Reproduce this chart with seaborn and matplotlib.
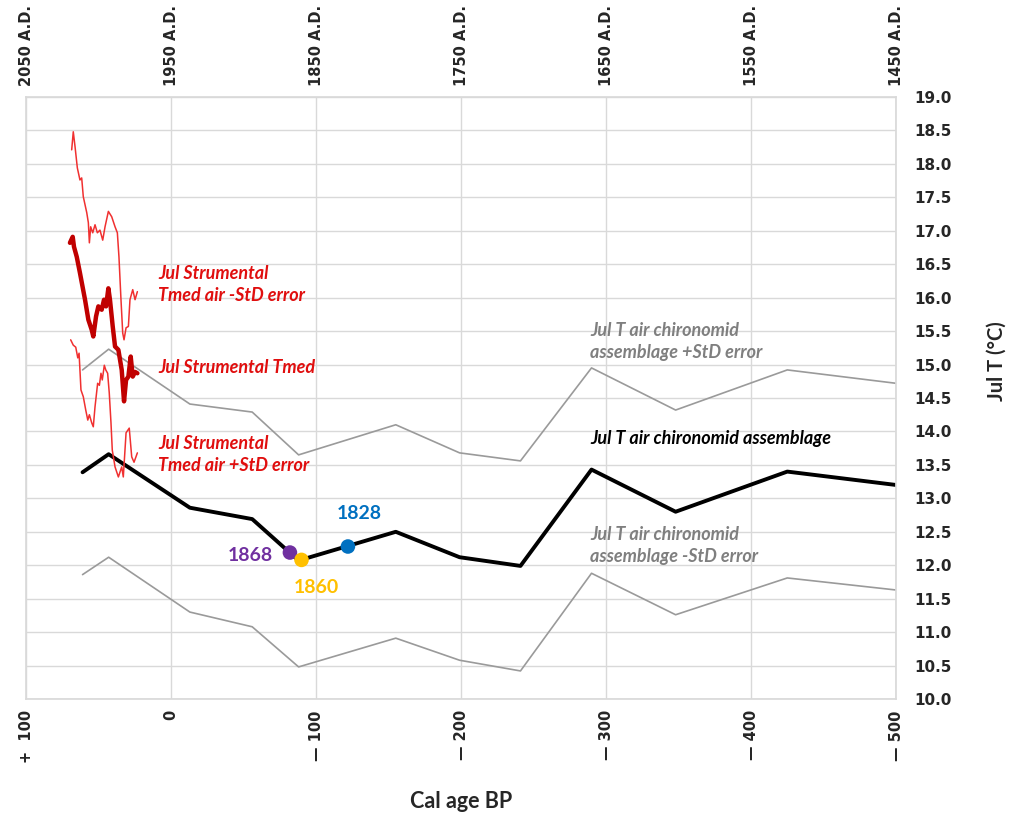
import matplotlib
matplotlib.use("Agg")
import matplotlib.pyplot as plt
import numpy as np
import pandas as pd
import seaborn as sns

# Chironomid-inferred July air temperature (Cal age BP)
chiro_age = [-61, -43, 13, 56, 88, 155, 199, 241, 290, 348, 425, 500]
chiro_mean = [13.39, 13.66, 12.86, 12.69, 12.07, 12.50, 12.12, 11.99, 13.43, 12.80, 13.40, 13.20]
chiro_plus = [14.92, 15.23, 14.41, 14.29, 13.65, 14.10, 13.68, 13.56, 14.95, 14.32, 14.92, 14.72]
chiro_minus = [11.86, 12.12, 11.30, 11.08, 10.48, 10.91, 10.58, 10.42, 11.88, 11.26, 11.81, 11.63]

# Instrumental July Tmed series
instr_upper_age = [-68.5, -67.4, -66.2, -64.6, -62.8, -61.6, -60.5, -58.1, -57.0, -56.3, -55.4,
                   -54.0, -52.4, -50.8, -49.0, -47.1, -45.5, -43.2, -40.9, -38.6, -37.0, -35.9,
                   -34.5, -33.3, -32.4, -31.0, -29.4, -28.3, -26.4, -24.8, -23.2]
instr_upper = [18.21, 18.48, 18.26, 17.94, 17.76, 17.79, 17.51, 17.27, 17.12, 16.82, 17.06,
               16.97, 17.09, 16.97, 17.01, 16.86, 17.06, 17.29, 17.21, 17.06, 16.97, 16.61,
               15.97, 15.47, 15.37, 15.55, 15.57, 15.97, 16.12, 15.97, 16.09]

instr_mean_age = [-69.7, -67.8, -66.9, -65.0, -62.8, -59.3, -57.0, -54.7, -53.6, -51.7, -50.1,
                  -47.8, -46.2, -44.8, -43.2, -42.1, -40.2, -38.6, -36.3, -34.0, -32.4, -31.0,
                  -29.4, -27.8, -26.4, -24.8, -23.2]
instr_mean = [16.82, 16.91, 16.76, 16.61, 16.37, 15.97, 15.67, 15.52, 15.42, 15.72, 15.87,
              15.82, 15.97, 15.87, 16.14, 15.97, 15.57, 15.27, 15.22, 14.92, 14.45, 14.77,
              14.82, 15.12, 14.82, 14.89, 14.87]

instr_lower_age = [-69.2, -67.4, -65.7, -64.3, -63.4, -62.1, -60.5, -58.8, -57.4, -56.3, -54.7,
                   -53.6, -52.4, -50.6, -49.4, -48.3, -47.4, -46.0, -45.0, -43.7, -42.6, -41.4,
                   -40.5, -38.6, -36.3, -34.0, -32.9, -31.0, -28.8, -27.1, -25.5, -23.2]
instr_lower = [15.37, 15.29, 15.26, 15.10, 15.17, 14.62, 14.52, 14.32, 14.17, 14.25, 14.13,
               14.07, 14.37, 14.72, 14.69, 14.87, 14.77, 14.99, 14.92, 14.87, 14.58, 14.13,
               13.72, 13.47, 13.32, 13.47, 13.32, 13.98, 14.05, 13.62, 13.54, 13.68]

# Dated points on the chironomid curve
event_age = [82, 90, 122]
event_temp = [12.19, 12.08, 12.28]
event_label = ["1868", "1860", "1828"]
event_color = ["#7030A0", "#FFC000", "#0070C0"]

x_ticks = [-100, 0, 100, 200, 300, 400, 500]
bottom_labels = ["+  100", "0", "\u2014 100", "\u2014 200", "\u2014 300", "\u2014 400", "\u2014 500"]
top_labels = ["2050 A.D.", "1950 A.D.", "1850 A.D.", "1750 A.D.", "1650 A.D.", "1550 A.D.", "1450 A.D."]

sns.set_theme(style="whitegrid")
plt.rcParams["font.family"] = ["DejaVu Sans"]

fig, ax = plt.subplots(figsize=(10.12, 8.22), dpi=100)
fig.subplots_adjust(left=0.0257, right=0.8854, bottom=0.1496, top=0.882)

grey = "#9A9A9A"
sns.lineplot(x=chiro_age, y=chiro_plus, color=grey, lw=1.2, ax=ax)
sns.lineplot(x=chiro_age, y=chiro_minus, color=grey, lw=1.2, ax=ax)
sns.lineplot(x=chiro_age, y=chiro_mean, color="black", lw=2.8, ax=ax)

sns.lineplot(x=instr_upper_age, y=instr_upper, color="#F03030", lw=1.1, ax=ax)
sns.lineplot(x=instr_lower_age, y=instr_lower, color="#F03030", lw=1.1, ax=ax)
sns.lineplot(x=instr_mean_age, y=instr_mean, color="#C00000", lw=3.2, ax=ax)

events = pd.DataFrame({"age": event_age, "temp": event_temp, "label": event_label})
sns.scatterplot(data=events, x="age", y="temp", hue="label", palette=event_color,
                s=110, edgecolor="none", legend=False, zorder=5, ax=ax)

lab_font = dict(family="Lato", fontweight="bold", fontsize=14)
ax.text(70, 12.15, "1868", color=event_color[0], ha="right", va="center", **lab_font)
ax.text(100, 11.66, "1860", color=event_color[1], ha="center", va="center", **lab_font)
ax.text(130, 12.78, "1828", color=event_color[2], ha="center", va="center", **lab_font)

note = dict(family="Lato", fontweight="bold", style="italic", fontsize=13, ha="left",
            va="center", linespacing=1.35)
red = "#E00E0E"
ax.text(-9, 16.2, "Jul Strumental\nTmed air -StD error", color=red, **note)
ax.text(-9, 14.96, "Jul Strumental Tmed", color=red, **note)
ax.text(-9, 13.65, "Jul Strumental\nTmed air +StD error", color=red, **note)
ax.text(289, 15.35, "Jul T air chironomid\nassemblage +StD error", color="#7F7F7F", **note)
ax.text(289, 13.89, "Jul T air chironomid assemblage", color="black", **note)
ax.text(289, 12.29, "Jul T air chironomid\nassemblage -StD error", color="#7F7F7F", **note)

ax.set_xlim(-100, 500)
ax.set_ylim(10, 19)
ax.set_xticks(x_ticks)
ax.set_xticklabels(bottom_labels, rotation=90, fontweight="bold", fontsize=10.5)
ax.set_yticks(np.arange(10, 19.01, 0.5))
ax.yaxis.set_major_formatter(matplotlib.ticker.FormatStrFormatter("%.1f"))
ax.yaxis.tick_right()
ax.yaxis.set_label_position("right")
ax.tick_params(axis="y", length=0, pad=13, labelsize=11)
ax.tick_params(axis="x", length=0, pad=8)
for t in ax.get_yticklabels():
    t.set_fontweight("bold")

top = ax.secondary_xaxis("top")
top.set_xticks(x_ticks)
top.set_xticklabels(top_labels, rotation=90, fontweight="bold", fontsize=10.5)
top.tick_params(length=0, pad=8)
top.spines["top"].set_visible(False)

ax.grid(True, color="#D9D9D9", lw=1.0)
for sp in ax.spines.values():
    sp.set_color("#D9D9D9")

ax.set_xlabel("Cal age BP", family="Lato", fontweight="bold", fontsize=15.5)
ax.xaxis.set_label_coords(0.5, -0.152)
ax.set_ylabel("Jul T (\u00b0C)", family="Lato", fontweight="bold", fontsize=14.5)
ax.yaxis.set_label_coords(1.104, 0.561)

plt.savefig("out.png", dpi=100)
